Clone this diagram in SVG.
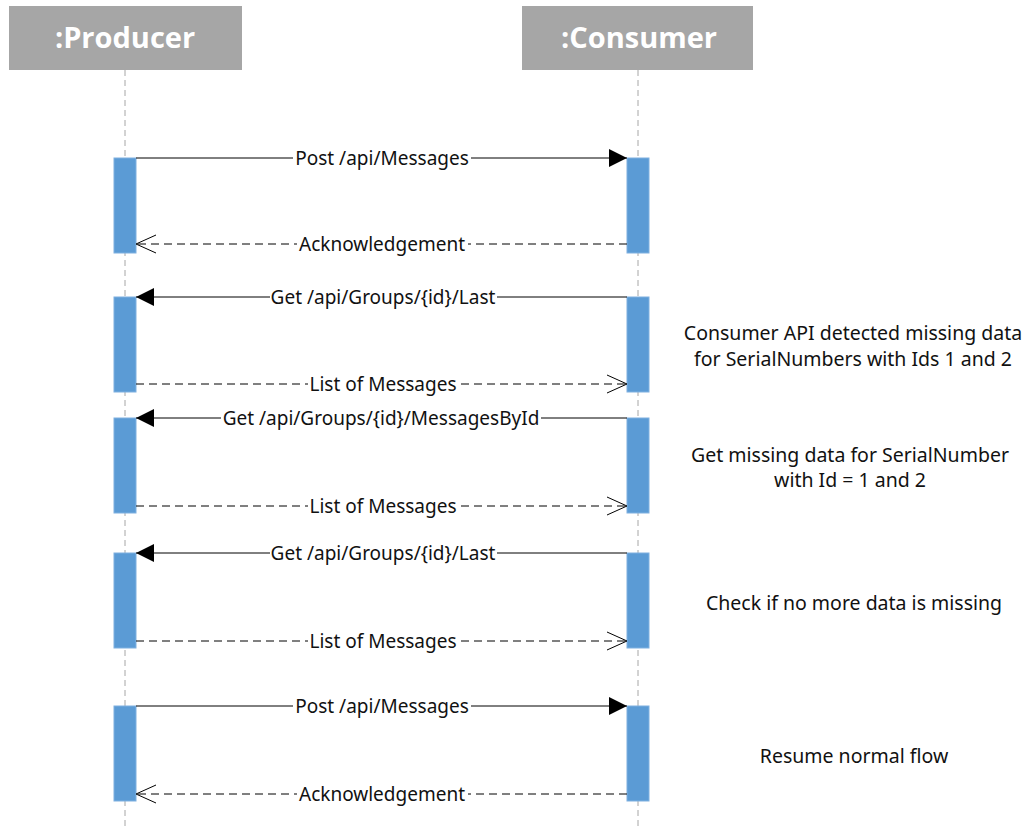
<svg xmlns="http://www.w3.org/2000/svg" width="1036" height="830" viewBox="0 0 1036 830">
<style>
.hdr{fill:#a6a6a6}
.hdrt{font-family:"Open Sans","Noto Sans",sans-serif;font-weight:bold;font-size:29px;fill:#ffffff;text-anchor:middle}
.life{stroke:#a6a6a6;stroke-width:1;stroke-dasharray:6,4;fill:none}
.act{fill:#5b9bd5;stroke:#7fb0e0;stroke-width:1}
.msg{stroke:#000;stroke-width:1;fill:none}
.ret{stroke:#000;stroke-width:1;fill:none;stroke-dasharray:8,5}
.lbl{font-family:"Noto Sans","Open Sans",sans-serif;font-size:19px;fill:#111;text-anchor:middle}
.note{font-family:"Noto Sans","Open Sans",sans-serif;font-size:19.5px;fill:#111;text-anchor:middle}
.bg{fill:#fff}
</style>
<defs>
<marker id="filled" markerWidth="18" markerHeight="18" refX="18" refY="9" orient="auto" markerUnits="userSpaceOnUse">
<path d="M0,0 L18,9 L0,18 Z" fill="#000"/>
</marker>
<marker id="open" markerWidth="22" markerHeight="20" refX="21" refY="10" orient="auto" markerUnits="userSpaceOnUse">
<path d="M1,1 L21,10 L1,19" fill="none" stroke="#000" stroke-width="1"/>
</marker>
</defs>
<rect width="1036" height="830" fill="#ffffff"/>
<g id="producer">
<rect class="hdr" x="9" y="6" width="233" height="64"/>
<text class="hdrt" x="125" y="48">:Producer</text>
<line class="life" x1="125" y1="70" x2="125" y2="830"/>
</g>
<g id="consumer">
<rect class="hdr" x="522" y="6" width="231" height="64"/>
<text class="hdrt" x="639" y="48">:Consumer</text>
<line class="life" x1="638" y1="70" x2="638" y2="830"/>
</g>
<g id="activations">
<rect class="act" x="114" y="158" width="22" height="95"/>
<rect class="act" x="627" y="158" width="22" height="95"/>
<rect class="act" x="114" y="297" width="22" height="95"/>
<rect class="act" x="627" y="297" width="22" height="95"/>
<rect class="act" x="114" y="418" width="22" height="95"/>
<rect class="act" x="627" y="418" width="22" height="95"/>
<rect class="act" x="114" y="553" width="22" height="95"/>
<rect class="act" x="627" y="553" width="22" height="95"/>
<rect class="act" x="114" y="706" width="22" height="95"/>
<rect class="act" x="627" y="706" width="22" height="95"/>
</g>
<g id="connectors">
<line class="msg" x1="136" y1="158" x2="627" y2="158" marker-end="url(#filled)"/>
<line class="ret" x1="627" y1="244" x2="136" y2="244" marker-end="url(#open)"/>
<line class="msg" x1="627" y1="297" x2="136" y2="297" marker-end="url(#filled)"/>
<line class="ret" x1="136" y1="384" x2="627" y2="384" marker-end="url(#open)"/>
<line class="msg" x1="627" y1="418" x2="136" y2="418" marker-end="url(#filled)"/>
<line class="ret" x1="136" y1="506" x2="627" y2="506" marker-end="url(#open)"/>
<line class="msg" x1="627" y1="553" x2="136" y2="553" marker-end="url(#filled)"/>
<line class="ret" x1="136" y1="641" x2="627" y2="641" marker-end="url(#open)"/>
<line class="msg" x1="136" y1="706" x2="627" y2="706" marker-end="url(#filled)"/>
<line class="ret" x1="627" y1="794" x2="136" y2="794" marker-end="url(#open)"/>
<g id="labels">
<rect class="bg" x="293" y="147" width="178" height="22"/>
<text class="lbl" x="382" y="165">Post /api/Messages</text>
<rect class="bg" x="297" y="233" width="171" height="22"/>
<text class="lbl" x="382" y="251">Acknowledgement</text>
<rect class="bg" x="270" y="286" width="227" height="22"/>
<text class="lbl" x="383" y="304">Get /api/Groups/{id}/Last</text>
<rect class="bg" x="308" y="373" width="150" height="22"/>
<text class="lbl" x="383" y="391">List of Messages</text>
<rect class="bg" x="221" y="407" width="320" height="22"/>
<text class="lbl" x="381" y="425">Get /api/Groups/{id}/MessagesById</text>
<rect class="bg" x="308" y="495" width="150" height="22"/>
<text class="lbl" x="383" y="513">List of Messages</text>
<rect class="bg" x="270" y="542" width="227" height="22"/>
<text class="lbl" x="383" y="560">Get /api/Groups/{id}/Last</text>
<rect class="bg" x="308" y="630" width="150" height="22"/>
<text class="lbl" x="383" y="648">List of Messages</text>
<rect class="bg" x="293" y="695" width="178" height="22"/>
<text class="lbl" x="382" y="713">Post /api/Messages</text>
<rect class="bg" x="297" y="783" width="171" height="22"/>
<text class="lbl" x="382" y="801">Acknowledgement</text>
</g>
</g>
<g id="notes">
<text class="note" x="853" y="340">Consumer API detected missing data</text>
<text class="note" x="853" y="366">for SerialNumbers with Ids 1 and 2</text>
<text class="note" x="850" y="462">Get missing data for SerialNumber</text>
<text class="note" x="850" y="487">with Id = 1 and 2</text>
<text class="note" x="854" y="610">Check if no more data is missing</text>
<text class="note" x="854" y="763">Resume normal flow</text>
</g>
</svg>
